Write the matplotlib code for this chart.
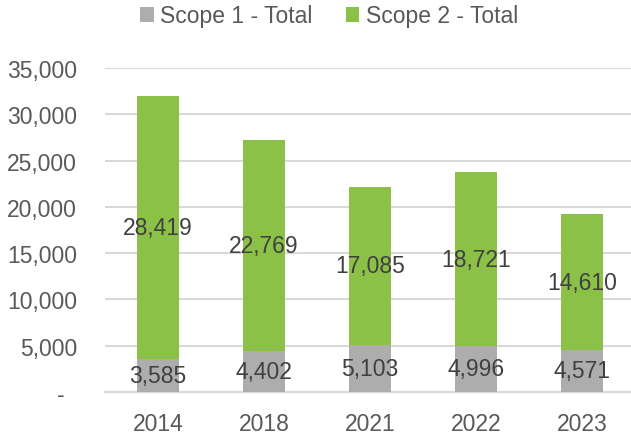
import matplotlib
matplotlib.use("Agg")
import matplotlib.pyplot as plt
from matplotlib.ticker import FuncFormatter, MultipleLocator

years = ["2014", "2018", "2021", "2022", "2023"]
scope1 = [3585, 4402, 5103, 4996, 4571]
scope2 = [28419, 22769, 17085, 18721, 14610]
series_names = ["Scope 1 - Total", "Scope 2 - Total"]

plt.rcParams['font.family'] = ['Liberation Sans', 'DejaVu Sans']

GREY = "#ADADAD"
GREEN = "#8CC147"
TICK = "#595959"
LABEL = "#404040"
GRID = "#D9D9D9"
FS = 16.5

fig = plt.figure(figsize=(6.31, 4.35), dpi=100)
ax = fig.add_axes([105/631, 1-393/435, 530/631, (393-69)/435])

x = list(range(len(years)))
b1 = ax.bar(x, scope1, width=0.4, color=GREY, label=series_names[0], zorder=3)
b2 = ax.bar(x, scope2, width=0.4, bottom=scope1, color=GREEN, label=series_names[1], zorder=3)

for xi, s1, s2 in zip(x, scope1, scope2):
    ax.text(xi, s1/2, f"{s1:,}", ha="center", va="center", fontsize=FS, color=LABEL, zorder=4)
    ax.text(xi, s1 + s2/2, f"{s2:,}", ha="center", va="center", fontsize=FS, color=LABEL, zorder=4)

ax.set_xlim(-0.5, len(years)-0.5)
ax.set_ylim(0, 35000)
ax.yaxis.set_major_locator(MultipleLocator(5000))
ax.yaxis.set_major_formatter(FuncFormatter(lambda v, p: "-  " if v == 0 else f"{int(v):,}"))
ax.set_xticks(x)
ax.set_xticklabels(years)
ax.tick_params(axis="both", length=0, labelsize=FS, labelcolor=TICK)
ax.tick_params(axis="y", pad=20)
ax.tick_params(axis="x", pad=14.5)
ax.grid(axis="y", color=GRID, linewidth=1.5, zorder=0)
for s in ["top", "right", "left"]:
    ax.spines[s].set_visible(False)
ax.spines["bottom"].set_color(GRID)
ax.spines["bottom"].set_linewidth(1.5)
ax.spines["bottom"].set_zorder(0.5)

fig.legend(handles=[b1, b2], loc="center", bbox_to_anchor=(329/631, 1-17/435),
           ncol=2, frameon=False, fontsize=FS, labelcolor=TICK,
           handlelength=0.6, handleheight=0.6, handletextpad=0.28, columnspacing=1.45)

fig.savefig("out.png", dpi=100)
